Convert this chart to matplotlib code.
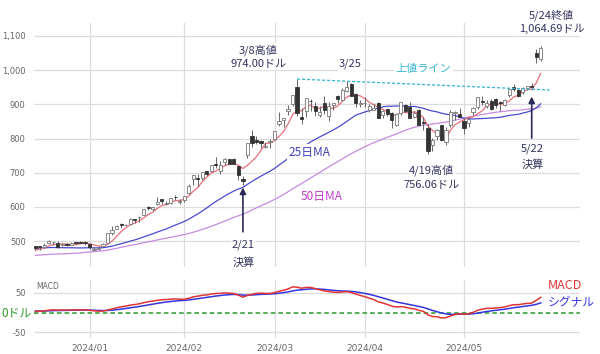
import matplotlib
matplotlib.use('Agg')
import matplotlib.pyplot as plt
import numpy as np
import pandas as pd

plt.rcParams['font.family'] = ['Noto Sans CJK JP', 'DejaVu Sans']

# closes before the visible window (used only for moving averages / MACD warm-up)
pre_closes = [447.8, 435.2, 440.4, 446.9, 457.6, 452.7, 458.0, 468.1, 469.5, 454.6,
              461.0, 439.4, 422.0, 421.0, 413.9, 429.8, 436.6, 417.8, 403.3, 405.0,
              411.6, 407.8, 423.3, 435.1, 450.1, 457.5, 459.6, 465.7, 469.5, 483.4,
              486.2, 496.6, 488.9, 494.8, 493.0, 504.1, 499.4, 487.2, 477.8, 482.4,
              478.2, 481.4, 467.7, 467.7, 455.1, 465.7, 455.0, 466.0, 475.1, 466.3, 476.6]

dates = ['2023-12-13', '2023-12-14', '2023-12-15', '2023-12-18', '2023-12-19', '2023-12-20',
         '2023-12-21', '2023-12-22', '2023-12-26', '2023-12-27', '2023-12-28', '2023-12-29',
         '2024-01-02', '2024-01-03', '2024-01-04', '2024-01-05', '2024-01-08', '2024-01-09',
         '2024-01-10', '2024-01-11', '2024-01-12', '2024-01-16', '2024-01-17', '2024-01-18',
         '2024-01-19', '2024-01-22', '2024-01-23', '2024-01-24', '2024-01-25', '2024-01-26',
         '2024-01-29', '2024-01-30', '2024-01-31',
         '2024-02-01', '2024-02-02', '2024-02-05', '2024-02-06', '2024-02-07', '2024-02-08',
         '2024-02-09', '2024-02-12', '2024-02-13', '2024-02-14', '2024-02-15', '2024-02-16',
         '2024-02-20', '2024-02-21', '2024-02-22', '2024-02-23', '2024-02-26', '2024-02-27',
         '2024-02-28', '2024-02-29',
         '2024-03-01', '2024-03-04', '2024-03-05', '2024-03-06', '2024-03-07', '2024-03-08',
         '2024-03-11', '2024-03-12', '2024-03-13', '2024-03-14', '2024-03-15', '2024-03-18',
         '2024-03-19', '2024-03-20', '2024-03-21', '2024-03-22', '2024-03-25', '2024-03-26',
         '2024-03-27', '2024-03-28',
         '2024-04-01', '2024-04-02', '2024-04-03', '2024-04-04', '2024-04-05', '2024-04-08',
         '2024-04-09', '2024-04-10', '2024-04-11', '2024-04-12', '2024-04-15', '2024-04-16',
         '2024-04-17', '2024-04-18', '2024-04-19', '2024-04-22', '2024-04-23', '2024-04-24',
         '2024-04-25', '2024-04-26', '2024-04-29', '2024-04-30',
         '2024-05-01', '2024-05-02', '2024-05-03', '2024-05-06', '2024-05-07', '2024-05-08',
         '2024-05-09', '2024-05-10', '2024-05-13', '2024-05-14', '2024-05-15', '2024-05-16',
         '2024-05-17', '2024-05-20', '2024-05-21', '2024-05-22', '2024-05-23', '2024-05-24']

opens = [484.9, 483.8, 481.9, 494.0, 495.8, 494.1, 488.0, 491.9, 489.7, 495.1, 496.4, 498.1,
         492.4, 474.9, 477.7, 484.6, 495.1, 524.5, 536.2, 549.2, 546.2, 550.2, 563.5, 569.8,
         575.9, 599.2, 595.0, 609.6, 623.5, 609.6, 612.3, 629.0, 614.4,
         621.0, 639.7, 682.8, 685.7, 683.2, 703.9, 705.3, 726.0, 704.0, 732.0, 738.7, 741.0,
         719.5, 680.1, 750.3, 807.9, 797.0, 793.8, 776.2, 790.9,
         800.0, 841.3, 852.7, 880.2, 901.6, 951.4, 864.3, 880.5, 910.6, 895.8, 869.3, 903.9,
         867.0, 898.0, 923.0, 911.4, 939.4, 958.5, 931.1, 900.0,
         903.0, 884.5, 884.8, 904.1, 868.6, 887.0, 874.8, 839.3, 874.3, 897.0, 891.0, 864.3,
         883.4, 849.7, 831.5, 781.0, 807.7, 839.5, 788.7, 838.2, 876.0, 872.4,
         850.8, 844.5, 877.9, 893.5, 910.4, 895.0, 910.9, 915.0, 905.0, 897.0, 927.0, 950.0,
         943.0, 935.0, 948.9, 955.0, 1050.0, 1034.0]

highs = [485.0, 486.7, 494.0, 504.3, 496.0, 498.7, 493.0, 493.8, 496.0, 496.8, 498.8, 500.0,
         492.9, 481.8, 485.0, 495.5, 522.8, 543.3, 546.0, 553.5, 549.7, 568.4, 564.7, 572.0,
         595.0, 602.4, 599.6, 628.4, 623.6, 618.0, 624.9, 634.9, 623.0,
         631.9, 666.0, 694.0, 696.1, 702.2, 706.3, 721.9, 746.1, 734.5, 742.0, 739.8, 744.0,
         719.6, 688.9, 785.8, 823.9, 806.5, 794.8, 789.3, 799.9,
         823.0, 876.9, 861.0, 897.2, 927.7, 974.0, 888.0, 919.6, 915.0, 906.5, 895.5, 924.0,
         905.4, 904.1, 926.5, 947.8, 967.7, 963.8, 932.4, 913.0,
         922.3, 900.9, 903.7, 906.3, 884.8, 888.3, 876.4, 874.0, 907.4, 901.8, 906.8, 881.2,
         887.8, 861.9, 843.2, 800.7, 827.7, 840.8, 833.2, 883.3, 879.2, 888.2,
         860.0, 860.0, 892.8, 921.6, 924.2, 913.0, 917.0, 918.5, 909.0, 914.9, 946.3, 958.2,
         948.4, 951.0, 955.0, 963.0, 1063.2, 1069.5]

lows = [474.1, 474.7, 481.0, 491.1, 489.0, 480.9, 484.0, 484.7, 489.6, 490.9, 494.1, 487.5,
        475.9, 473.2, 475.1, 483.0, 494.8, 516.9, 534.9, 538.2, 543.3, 549.5, 551.3, 556.8,
        575.5, 589.9, 589.1, 605.0, 608.3, 605.0, 609.3, 619.5, 608.2,
        615.2, 637.6, 663.9, 661.5, 680.0, 689.6, 702.1, 712.5, 696.2, 722.3, 724.0, 725.0,
        677.3, 662.5, 742.2, 775.7, 785.1, 771.6, 771.2, 771.5,
        794.4, 837.2, 834.2, 870.0, 896.0, 865.1, 841.7, 861.5, 879.8, 866.0, 862.6, 870.8,
        850.1, 882.2, 904.1, 908.3, 935.1, 925.0, 891.2, 891.9,
        892.0, 876.3, 884.0, 858.8, 859.3, 867.3, 830.2, 837.1, 869.3, 875.3, 859.3, 860.6,
        839.5, 824.0, 756.1, 764.0, 795.5, 791.8, 782.2, 833.9, 852.7, 863.0,
        812.2, 835.1, 870.2, 886.1, 898.1, 890.2, 882.2, 888.6, 881.3, 896.3, 921.0, 940.1,
        920.2, 930.0, 941.6, 940.7, 1020.0, 1027.9]

closes = [480.9, 483.5, 488.9, 500.8, 496.0, 481.1, 489.9, 488.3, 492.8, 494.2, 495.2, 495.2,
          481.7, 475.7, 480.0, 491.0, 522.5, 531.4, 543.5, 548.2, 547.1, 563.8, 560.5, 571.1,
          594.9, 596.5, 598.7, 613.6, 616.2, 610.3, 624.7, 627.7, 615.3,
          630.3, 661.6, 693.3, 682.2, 701.0, 696.4, 721.3, 722.5, 721.3, 739.0, 726.6, 726.1,
          694.5, 674.7, 785.4, 788.2, 790.9, 787.0, 776.6, 791.1,
          822.8, 852.4, 859.6, 887.0, 926.7, 875.3, 857.7, 919.1, 908.9, 879.4, 878.4, 884.6,
          894.0, 903.7, 914.4, 942.9, 950.0, 925.6, 902.5, 903.6,
          903.6, 894.5, 889.6, 859.1, 880.1, 871.3, 853.5, 870.4, 906.2, 881.9, 860.0, 874.2,
          840.4, 846.7, 762.0, 795.2, 824.2, 796.8, 826.3, 877.4, 877.6, 864.0,
          830.4, 858.2, 887.9, 921.4, 905.5, 904.1, 887.5, 898.8, 904.0, 913.6, 946.3, 943.6,
          924.8, 947.8, 953.9, 949.5, 1038.0, 1064.7]

month_labels = ['2024/01', '2024/02', '2024/03', '2024/04', '2024/05']
resist_dates = ['2024-03-08', '2024-03-25']
resist_values = [974.0, 967.7]
resist_end_date_offset = 2  # trading days beyond the last candle

# ---------- derived series ----------
n = len(dates)
x = np.arange(n)
o = np.array(opens); h = np.array(highs); l = np.array(lows); c = np.array(closes)
allc = pd.Series(pre_closes + closes)
npre = len(pre_closes)
ma5 = allc.rolling(5).mean().values[npre:]
ma25 = allc.rolling(25).mean().values[npre:]
ma50 = allc.rolling(50).mean().values[npre:]
ema12 = allc.ewm(span=12, adjust=False).mean()
ema26 = allc.ewm(span=26, adjust=False).mean()
macd = ema12 - ema26
signal = macd.ewm(span=9, adjust=False).mean()
macd = macd.values[npre:]
signal = signal.values[npre:]

didx = {d: i for i, d in enumerate(dates)}
month_pos = []
for lab in month_labels:
    key = lab.replace('/', '-')
    month_pos.append(min(i for i, d in enumerate(dates) if d.startswith(key)))

# ---------- figure ----------
fig = plt.figure(figsize=(6, 3.54), dpi=100)
ax = fig.add_axes([34/600, 1-267/354, 546/600, 244/354])
mx = fig.add_axes([34/600, 1-338/354, 546/600, 58/354])

XL = (-0.3, 120.7)
grid_c = '#dcdcdc'
txt_c = '#33335e'
tick_c = '#666666'

for a in (ax, mx):
    a.set_xlim(*XL)
    for s in a.spines.values():
        s.set_visible(False)
    a.set_xticks(month_pos)
    a.grid(True, color=grid_c, lw=0.9)
    a.set_axisbelow(True)
    a.tick_params(length=0, labelsize=6, labelcolor=tick_c, pad=6)

ax.set_ylim(424, 1138)
ax.set_yticks([500, 600, 700, 800, 900, 1000, 1100])
ax.set_yticklabels(['500', '600', '700', '800', '900', '1,000', '1,100'], family='DejaVu Sans')
ax.tick_params(labelbottom=False)

# moving averages
ax.plot(x, ma50, color='#c58be0', lw=0.9, zorder=2)
ax.plot(x, ma25, color='#4a4ad0', lw=0.9, zorder=2)
ax.plot(x, ma5, color='#e8707a', lw=0.9, zorder=2)

# candles
up = c >= o
ax.vlines(x, l, h, color='#666666', lw=0.7, zorder=3)
body_lo = np.minimum(o, c)
body_h = np.maximum(np.abs(c - o), 1.5)
ax.bar(x[up], body_h[up], bottom=body_lo[up], width=0.7, facecolor='white',
       edgecolor='#777777', lw=0.6, zorder=4)
ax.bar(x[~up], body_h[~up], bottom=body_lo[~up], width=0.7, facecolor='#333333',
       edgecolor='#333333', lw=0.6, zorder=4)

# resistance line
ri = [didx[d] for d in resist_dates]
slope = (resist_values[1] - resist_values[0]) / (ri[1] - ri[0])
xe = n - 1 + resist_end_date_offset
ax.plot([ri[0], xe], [resist_values[0], resist_values[0] + slope * (xe - ri[0])],
        ls=(0, (2.5, 1.5)), color='#35b5d5', lw=0.9, zorder=5)

bb = dict(facecolor='white', edgecolor='none', pad=1.0)
fs = 8
def t(xv, yv, s, color=txt_c, size=fs, **kw):
    ax.text(xv, yv, s, ha='center', va='center', color=color, fontsize=size,
            bbox=bb, zorder=6, clip_on=False, **kw)

t(49.4, 1059, '3/8高値')
t(49.4, 1018, '974.00ドル')
t(69.8, 1018, '3/25')
t(86.0, 1003, '上値ライン', color='#35b5d5')
t(114.4, 1161, '5/24終値')
t(114.4, 1120, '1,064.69ドル')
t(60.8, 760, '25日MA', color='#4040b8', size=8.5)
t(63.4, 629, '50日MA', color='#c040c8', size=8.5)
t(46.1, 488, '2/21')
t(46.1, 438, '決算')
t(87.8, 708, '4/19高値')
t(87.8, 664, '756.06ドル')
t(110.2, 769, '5/22')
t(110.2, 725, '決算')

ar = dict(arrowstyle='-|>', color='#2a2a5a', lw=1.2, mutation_scale=9, shrinkA=0, shrinkB=0)
i221 = didx['2024-02-21']
ax.annotate('', xy=(i221, l[i221] - 6), xytext=(i221, 527), arrowprops=ar, zorder=6)
i522 = didx['2024-05-22']
ax.annotate('', xy=(i522, l[i522] - 18), xytext=(i522, 801), arrowprops=ar, zorder=6)

# ---------- MACD panel ----------
mx.set_ylim(-65, 83)
mx.set_yticks([-50, 50])
mx.set_yticklabels(['-50', '50'], family='DejaVu Sans')
mx.set_xticklabels(month_labels, family='DejaVu Sans')
mx.tick_params(axis='x', pad=4, labelsize=6.5)
mx.axhline(0, color='#2a9a2a', ls=(0, (3, 2)), lw=1.1, zorder=2)
mx.plot(x, signal, color='#3535e0', lw=1.1, zorder=3)
mx.plot(x, macd, color='#e03535', lw=1.1, zorder=4)
mx.text(0.005, 0.88, 'MACD', transform=mx.transAxes, fontsize=5.5, color=tick_c,
        family='DejaVu Sans', va='center')
mx.text(-0.004, 65 / 148, '0ドル', transform=mx.transAxes, fontsize=8.5,
        color='#2a9a2a', ha='right', va='center', clip_on=False)
mx.text(0.941, 0.897, 'MACD', transform=mx.transAxes, fontsize=9, color='#e03535',
        va='center', clip_on=False)
mx.text(0.941, 0.603, 'シグナル', transform=mx.transAxes, fontsize=8.5, color='#3535e0',
        va='center', clip_on=False)

fig.savefig('out.png', dpi=100)
